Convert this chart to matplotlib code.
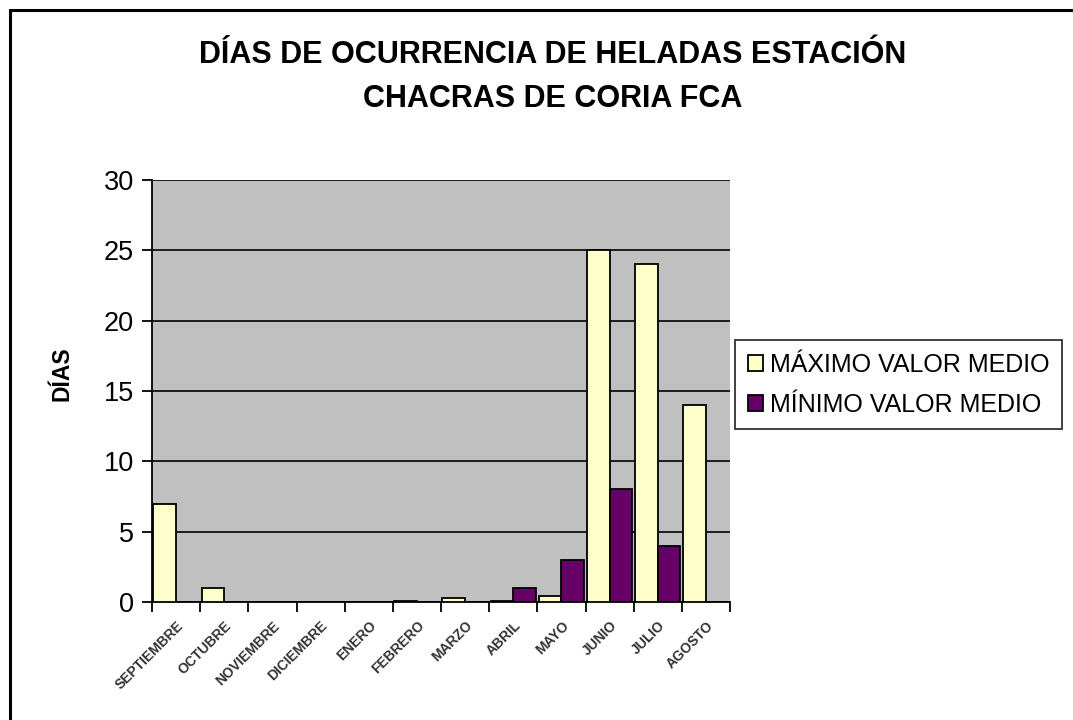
import matplotlib.pyplot as plt
from matplotlib.patches import Rectangle
import numpy as np

plt.rcParams['font.family'] = ['Liberation Sans', 'DejaVu Sans']

meses = ['SEPTIEMBRE', 'OCTUBRE', 'NOVIEMBRE', 'DICIEMBRE', 'ENERO', 'FEBRERO',
         'MARZO', 'ABRIL', 'MAYO', 'JUNIO', 'JULIO', 'AGOSTO']
max_medio = [7, 1, 0, 0, 0, 0.1, 0.3, 0.1, 0.4, 25, 24, 14]
min_medio = [0, 0, 0, 0, 0, 0, 0, 1, 3, 8, 4, 0]

fig = plt.figure(figsize=(10.73, 7.2), dpi=100)
ax = fig.add_axes([152 / 1073, 118 / 720, 578 / 1073, 422 / 720])
ax.set_facecolor('#C0C0C0')

x = np.arange(len(meses))
w = 0.47
ax.bar(x - w / 2, max_medio, w, color='#FFFFCC', edgecolor='black', linewidth=1.3,
       label='MÁXIMO VALOR MEDIO', zorder=3)
ax.bar(x + w / 2, min_medio, w, color='#660066', edgecolor='black', linewidth=1.3,
       label='MÍNIMO VALOR MEDIO', zorder=3)

ax.set_xlim(-0.5, len(meses) - 0.5)
ax.set_ylim(0, 30)
ax.set_yticks(range(0, 31, 5))
ax.yaxis.grid(True, color='black', linewidth=1.2, zorder=1)
ax.set_axisbelow(True)

ax.set_xticks(np.arange(-0.5, len(meses), 1))
ax.set_xticklabels([])
ax.set_xticks(x, minor=True)
ax.set_xticklabels(meses, minor=True, rotation=45, ha='right', rotation_mode='anchor',
                   fontsize=10, fontweight='bold', color='#333333')
ax.tick_params(axis='x', which='minor', length=0, pad=12)
ax.tick_params(axis='x', which='major', length=7, width=1.3, direction='out')
ax.tick_params(axis='y', length=7, width=1.3, direction='out', labelsize=19.5, pad=6)

for s in ['top', 'right']:
    ax.spines[s].set_visible(False)
for s in ['left', 'bottom']:
    ax.spines[s].set_linewidth(1.3)

ax.set_ylabel('DÍAS', fontsize=16.5, fontweight='bold')
ax.yaxis.set_label_coords(-0.135, 0.54)

fig.text(0.515, 1 - 77 / 720,
         'DÍAS DE OCURRENCIA DE HELADAS ESTACIÓN\nCHACRAS DE CORIA FCA',
         ha='center', va='center', fontsize=22, fontweight='bold', linespacing=1.6)

leg = fig.legend(loc='upper left', bbox_to_anchor=(735 / 1073, 1 - 340 / 720),
                 fontsize=18, frameon=True, fancybox=False, handlelength=0.6,
                 handleheight=0.6, handletextpad=0.3, borderpad=0.5, labelspacing=0.65,
                 borderaxespad=0)
leg.get_frame().set_edgecolor('black')
leg.get_frame().set_linewidth(1.3)

fig.patches.append(Rectangle((10 / 1073, -0.1), 1.2, 0.1 + 710 / 720, transform=fig.transFigure,
                             fill=False, edgecolor='black', linewidth=2.2))

plt.savefig('out.png', dpi=100)
